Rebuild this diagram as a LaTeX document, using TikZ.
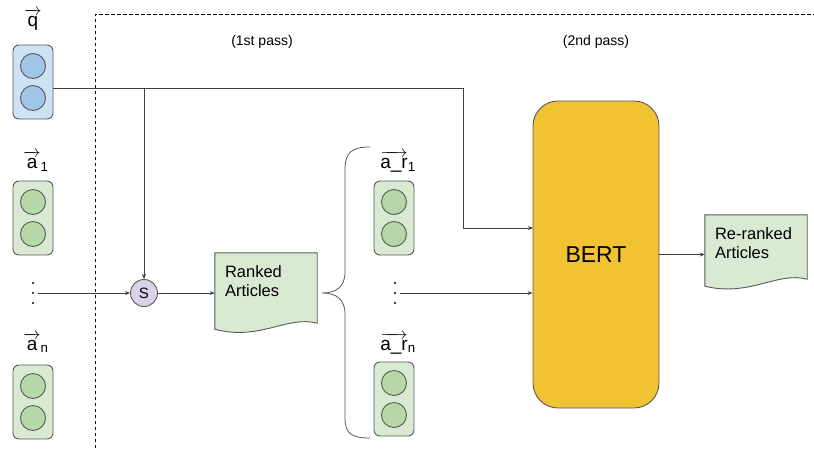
\documentclass[tikz,border=0pt]{standalone}
\usepackage{fontspec}
\usepackage{amsmath}
\setmainfont{Liberation Sans}
\usetikzlibrary{arrows.meta,calc}

\definecolor{qbox}{HTML}{CFE2F3}
\definecolor{qdot}{HTML}{9FC5E8}
\definecolor{abox}{HTML}{D9EAD3}
\definecolor{adot}{HTML}{B6D7A8}
\definecolor{sfill}{HTML}{D9D2E9}
\definecolor{bertfill}{HTML}{F1C232}
\definecolor{edge}{HTML}{595959}
\definecolor{wire}{HTML}{404040}

\tikzset{
  pod/.style={draw=edge, line width=0.9pt, rounded corners=6pt,
    minimum width=40pt, minimum height=74pt, inner sep=0pt},
  podcirc/.style={circle, draw=edge, line width=0.9pt, minimum size=25pt, inner sep=0pt},
  veclabel/.style={font=\fontsize{19}{22}\selectfont, inner sep=0pt, anchor=base},
  dotsnode/.style={minimum width=10pt, minimum height=26pt, inner sep=0pt},
  arr/.style={draw=wire, line width=0.8pt, -{Stealth[length=5pt,width=4pt]}},
  wireline/.style={draw=wire, line width=0.8pt},
  docbox/.style={minimum width=102pt, inner sep=0pt},
  doctext/.style={font=\fontsize{16.5}{20}\selectfont, align=left, anchor=north west, inner sep=0pt},
  passlabel/.style={font=\fontsize{14}{16}\selectfont},
}

% a vector of two circles inside a rounded box
\newcommand\podbox[4]{%
  \node[pod, fill=#3] (#1) at (#2) {};
  \node[podcirc, fill=#4] (#1-top) at ($(#1)+(0,-16)$) {};
  \node[podcirc, fill=#4] (#1-bot) at ($(#1)+(0,16)$) {};
}

% three stacked dots inside an empty node
\newcommand\vdotsat[2]{%
  \node[dotsnode] (#1) at (#2) {};
  \fill[black] ($(#1)+(0,-10)$) circle (1.1pt) (#1) circle (1.1pt) ($(#1)+(0,10)$) circle (1.1pt);
}

% document shape with a wavy lower edge, drawn around a node
\newcommand\docshape[2]{%
  \path[draw=edge, line width=0.9pt, fill=abox]
    (#1.north west) -- (#1.north east) -- (#1.south east)
    .. controls ($(#1.south east)+(-30,-8)$) and ($(#1.south west)+(45,18)$) ..
    ($(#1.south west)+(0,#2)$) -- cycle;
}

\begin{document}
\begin{tikzpicture}[x=1pt, y=-1pt]
  \useasboundingbox (0,0) rectangle (814,448);

  % first-pass / second-pass frame
  \draw[line width=0.7pt, dash pattern=on 3.5pt off 2.5pt] (95,448) -- (95,14) -- (814,14);
  \node[passlabel] (pass1) at (262,42) {(1st pass)};
  \node[passlabel] (pass2) at (596,42) {(2nd pass)};

  % query and article vectors
  \node[veclabel] (qlab) at (33,26) {$\overrightarrow{\text{q}}$};
  \podbox{q}{33,82}{qbox}{qdot}
  \node[veclabel] (a1lab) at (36,168) {$\overrightarrow{\text{a}}_{\text{1}}$};
  \podbox{a1}{33,218}{abox}{adot}
  \vdotsat{ldots}{33,293}
  \node[veclabel] (anlab) at (36,350) {$\overrightarrow{\text{a}}_{\text{n}}$};
  \podbox{an}{33,402}{abox}{adot}

  % similarity scorer
  \node[circle, draw=edge, line width=0.9pt, fill=sfill, minimum size=27pt, inner sep=0pt,
        font=\fontsize{15}{17}\selectfont] (s) at (144,293) {S};

  % ranked list
  \node[docbox, minimum height=70pt] (ranked) at (266,288) {};
  \docshape{ranked}{6}
  \node[doctext] (rankedtxt) at ($(ranked.north west)+(10,13)$) {Ranked\\[-1pt]Articles};

  % brace over the re-ranked candidates
  \draw[draw=edge, line width=0.8pt] (370,147) .. controls (352,147) and (345,152) .. (345,170)
    -- (345,272) .. controls (345,287) and (336,293) .. (322,293)
    .. controls (336,293) and (345,299) .. (345,314)
    -- (345,418) .. controls (345,434) and (352,438) .. (370,438);

  \node[veclabel] (ar1lab) at (398,168) {$\overrightarrow{\text{a\_r}}_{\text{1}}$};
  \podbox{ar1}{394,218}{abox}{adot}
  \vdotsat{rdots}{395,293}
  \node[veclabel] (arnlab) at (398,350) {$\overrightarrow{\text{a\_r}}_{\text{n}}$};
  \podbox{arn}{394,399}{abox}{adot}

  % second-pass model
  \node[draw=edge, line width=0.9pt, fill=bertfill, rounded corners=25pt,
        minimum width=126pt, minimum height=307pt, inner sep=0pt,
        font=\fontsize{23}{26}\selectfont] (bert) at (596,254.5) {BERT};

  % output list
  \node[docbox, minimum height=64pt] (rer) at (756,247) {};
  \docshape{rer}{7}
  \node[doctext] (rertxt) at ($(rer.north west)+(10,13)$) {Re-ranked\\[-1pt]Articles};

  % connectors
  \coordinate (qout) at (53,88);
  \coordinate (qsplit) at (144,88);
  \coordinate (qturn) at (463,88);
  \coordinate (bertq) at (533,228);
  \draw[wireline] (qout) -- (qturn);
  \draw[arr] (qturn) |- (bertq);
  \draw[arr] (qsplit) -- (s.north);
  \draw[arr] (ldots.east) -- (s.west);
  \draw[arr] (s.east) -- (s.east -| ranked.west);
  \draw[arr] (rdots.east) -- (rdots.east -| bert.west);
  \draw[arr] (bert.east) -- (bert.east -| rer.west);
\end{tikzpicture}
\end{document}
